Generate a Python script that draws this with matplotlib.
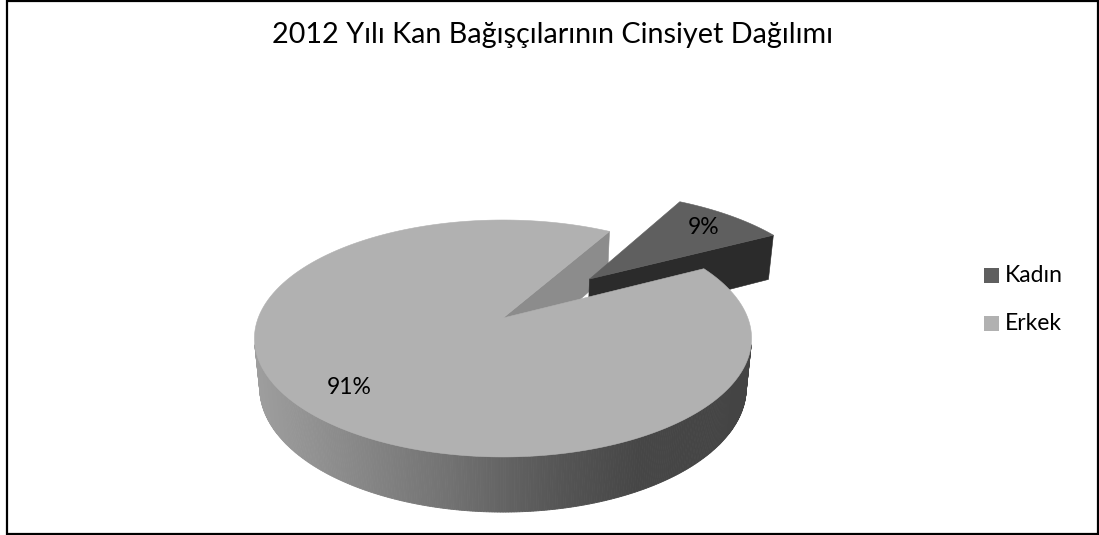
import numpy as np
import matplotlib
matplotlib.use("Agg")
import matplotlib.pyplot as plt
from matplotlib.patches import Polygon, Rectangle

# ---- data -------------------------------------------------------------
title = "2012 Yılı Kan Bağışçılarının Cinsiyet Dağılımı"
categories = ["Kadın", "Erkek"]
shares = [9, 91]                       # percent
explode = [0.52, 0.0]                  # radial offset, fraction of radius
top_colors = ["#5f5f5f", "#b1b1b1"]
cut_colors = ["#2b2b2b", "#8c8c8c"]

# ---- canvas (axes in pixel units) ------------------------------------
W, H = 1099, 535
fig = plt.figure(figsize=(W / 100, H / 100), dpi=100)
ax = fig.add_axes([0, 0, 1, 1])
ax.set_xlim(0, W)
ax.set_ylim(H, 0)
ax.axis("off")
plt.rcParams["font.family"] = ["Lato", "DejaVu Sans"]

# ---- 3D pie camera ----------------------------------------------------
elev = np.radians(28.0)
ce, se = np.cos(elev), np.sin(elev)
dist = 5.108          # camera distance in radii
focal = 1250.5        # projection scale (pixels)
px0, py0 = 503.0, 318.0   # pie centre on the canvas
thick = 0.23          # pie height in radii
first_angle = 30.0    # rotation of first slice (clockwise from 12 o'clock)


def project(x, y, z):
    """x right, y up, z toward the viewer -> canvas pixels."""
    x, y, z = (np.asarray(a, float) for a in (x, y, z))
    depth = dist - se * y - ce * z
    up = ce * y - se * z
    return px0 + focal * x / depth, py0 - focal * up / depth


cam = np.array([0.0, dist * se, dist * ce])


def facing(normal, point):
    return np.dot(normal, cam - np.asarray(point)) > 0


def rim(t, y, off):
    t = np.radians(t)
    return np.cos(t) + off[0], y, -np.sin(t) + off[2]


def wall_shade(xpix):
    stops_x = [250, 330, 450, 560, 640, 760]
    stops_v = [160, 142, 114, 85, 70, 68]
    v = np.interp(xpix, stops_x, stops_v) / 255.0
    return (v, v, v)


# slice angles (degrees, counter-clockwise from 3 o'clock as seen from above)
bounds = []
a0 = 90.0 - first_angle
for sh in shares:
    a1 = a0 - 360.0 * sh / 100.0
    bounds.append((a1, a0))
    a0 = a1

offsets = []
for (a1, a0), e in zip(bounds, explode):
    mid = np.radians((a1 + a0) / 2)
    offsets.append(np.array([e * np.cos(mid), 0.0, -e * np.sin(mid)]))


def draw_cuts(i, z):
    a1, a0 = bounds[i]
    off = offsets[i]
    for t, sign in ((a1, 1), (a0, -1)):
        tr = np.radians(t)
        normal = sign * np.array([np.sin(tr), 0.0, np.cos(tr)])
        pmid = np.array([0.5 * np.cos(tr), -thick / 2, -0.5 * np.sin(tr)]) + off
        if not facing(normal, pmid):
            continue
        xs, ys, zs = zip(off + [0, 0, 0], rim(t, 0, off), rim(t, -thick, off),
                         off + [0, -thick, 0])
        X, Y = project(xs, ys, zs)
        ax.add_patch(Polygon(np.c_[X, Y], closed=True, fc=cut_colors[i],
                             ec=cut_colors[i], lw=0.4, zorder=z))


def draw_wall(i, z):
    a1, a0 = bounds[i]
    off = offsets[i]
    ts = np.linspace(a1, a0, 600)
    for ta, tb in zip(ts[:-1], ts[1:]):
        tm = np.radians((ta + tb) / 2)
        normal = np.array([np.cos(tm), 0.0, -np.sin(tm)])
        if not facing(normal, rim(np.degrees(tm), 0, off)):
            continue
        pts = [rim(ta, 0, off), rim(tb, 0, off), rim(tb, -thick, off), rim(ta, -thick, off)]
        xs, ys, zs = zip(*pts)
        X, Y = project(xs, ys, zs)
        col = wall_shade(X.mean())
        ax.add_patch(Polygon(np.c_[X, Y], closed=True, fc=col, ec=col, lw=0.6,
                             zorder=z))


def draw_top(i, z):
    a1, a0 = bounds[i]
    off = offsets[i]
    ts = np.linspace(a1, a0, 400)
    xs, ys, zs = rim(ts, 0, off)
    xs = np.r_[off[0], xs]
    zs = np.r_[off[2], zs]
    X, Y = project(xs, np.zeros_like(xs), zs)
    ax.add_patch(Polygon(np.c_[X, Y], closed=True, fc=top_colors[i],
                         ec=top_colors[i], lw=0.4, zorder=z))


def draw_label(i, r=0.79):
    a1, a0 = bounds[i]
    mid = np.radians((a1 + a0) / 2)
    k = explode[i] + r
    X, Y = project(k * np.cos(mid), 0.0, -k * np.sin(mid))
    ax.text(X, Y, f"{shares[i]}%", ha="center", va="center", fontsize=16.5,
            color="black", zorder=20)


# painter's order: back cut faces of the main body, then exploded slices,
# then the main body's wall and top
fixed = [i for i, e in enumerate(explode) if e == 0]
moved = [i for i, e in enumerate(explode) if e > 0]
for i in fixed:
    draw_cuts(i, 2)
for i in moved:
    draw_cuts(i, 3)
    draw_wall(i, 3)
    draw_top(i, 4)
for i in fixed:
    draw_wall(i, 5)
    draw_top(i, 6)
for i in range(len(shares)):
    draw_label(i)

# ---- title -----------------------------------------------------------
ax.text(552.5, 43.5, title, ha="center", va="baseline", fontsize=20.7, color="black")

# ---- legend ----------------------------------------------------------
for j, name in enumerate(categories):
    y = 275.5 + 48 * j
    ax.add_patch(Rectangle((984, y - 7.5), 15, 15, fc=top_colors[j], ec="none",
                           zorder=10))
    ax.text(1005, y, name, ha="left", va="center", fontsize=16.5, color="black")

# ---- chart frame -------------------------------------------------------
ax.add_patch(Rectangle((7, 1), 1090.5, 532.5, fill=False, ec="black", lw=1.6,
                       zorder=30))

fig.savefig("out.png", dpi=100)
